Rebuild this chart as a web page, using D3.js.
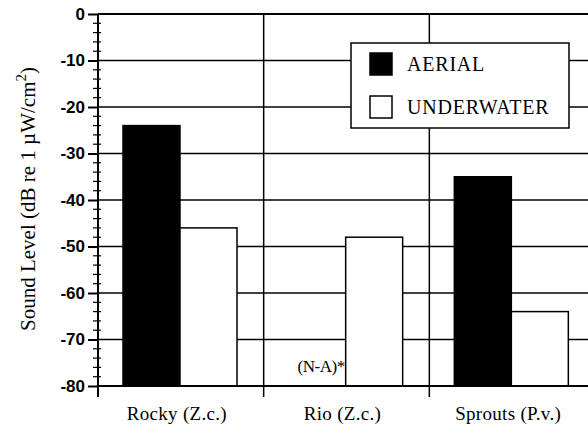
<!DOCTYPE html>
<html>
<head>
<meta charset="utf-8">
<script src="https://cdn.jsdelivr.net/npm/d3@7"></script>
<style>
  body { margin: 0; background: #fff; }
  svg { display: block; }
  .yaxis text { font-family: 'Liberation Sans', Arial, sans-serif; font-weight: bold; font-size: 17px; }
</style>
</head>
<body>
<div id="chart"></div>
<script>
var width = 588,
    height = 429;

// data
var categories = ["Rocky (Z.c.)", "Rio (Z.c.)", "Sprouts (P.v.)"];
var series = ["AERIAL", "UNDERWATER"];
var aerial = [-24, null, -35];
var underwater = [-46, -48, -64];
var yTicks = [0, -10, -20, -30, -40, -50, -60, -70, -80];

var serif = "'Liberation Serif', 'DejaVu Serif', serif";

var svg = d3.select("#chart").append("svg")
    .attr("width", width)
    .attr("height", height);

var y = d3.scaleLinear().domain([-80, 0]).range([386, 14]);
var x = d3.scaleBand().domain(categories).range([98, 595]).padding(0);
var x1 = d3.scaleBand().domain(series).range([25, 139]).padding(0);

// horizontal gridlines
svg.append("g")
  .selectAll("line")
  .data(yTicks.filter(function(d) { return d > -80; }))
  .join("line")
    .attr("x1", 98).attr("x2", width)
    .attr("y1", function(d) { return y(d); })
    .attr("y2", function(d) { return y(d); })
    .attr("stroke", "#000")
    .attr("stroke-width", function(d) { return d === 0 ? 2 : 1.3; });

// vertical separators between groups
svg.append("g")
  .selectAll("line")
  .data(categories.slice(1))
  .join("line")
    .attr("x1", function(d) { return x(d); })
    .attr("x2", function(d) { return x(d); })
    .attr("y1", y(0)).attr("y2", 397)
    .attr("stroke", "#000")
    .attr("stroke-width", 1.5);

// bars
var rows = [];
categories.forEach(function(c, i) {
  rows.push({cat: c, key: "AERIAL", value: aerial[i]});
  rows.push({cat: c, key: "UNDERWATER", value: underwater[i]});
});

svg.append("g")
  .selectAll("rect")
  .data(rows.filter(function(d) { return d.value !== null; }))
  .join("rect")
    .attr("x", function(d) { return x(d.cat) + x1(d.key); })
    .attr("width", x1.bandwidth())
    .attr("y", function(d) { return y(d.value); })
    .attr("height", function(d) { return y(-80) - y(d.value); })
    .attr("fill", function(d) { return d.key === "AERIAL" ? "#000" : "#fff"; })
    .attr("stroke", "#000")
    .attr("stroke-width", 1.5);

// N-A note for missing aerial value
svg.append("text")
    .attr("x", x("Rio (Z.c.)") + x1("UNDERWATER") - 1)
    .attr("y", 372)
    .attr("text-anchor", "end")
    .attr("font-family", serif)
    .attr("font-size", 17)
    .attr("letter-spacing", -0.5)
    .text("(N-A)*");

// y axis
var yAxis = d3.axisLeft(y)
    .tickValues(yTicks)
    .tickSize(10)
    .tickPadding(3)
    .tickFormat(function(d) { return String(d); });

var gy = svg.append("g")
    .attr("class", "yaxis")
    .attr("transform", "translate(98,0)")
    .call(yAxis);
gy.select(".domain").remove();
gy.selectAll(".tick line").attr("stroke-width", 2);

// minor ticks
svg.append("g")
  .selectAll("line")
  .data(d3.range(-80, 0, 2).filter(function(d) { return d % 10 !== 0; }))
  .join("line")
    .attr("x1", 93).attr("x2", 101)
    .attr("y1", function(d) { return y(d); })
    .attr("y2", function(d) { return y(d); })
    .attr("stroke", "#000")
    .attr("stroke-width", 1.2);

svg.append("line")
    .attr("x1", 98).attr("x2", 98)
    .attr("y1", y(0)).attr("y2", 397)
    .attr("stroke", "#000").attr("stroke-width", 2);

// x axis
svg.append("line")
    .attr("x1", 98).attr("x2", width)
    .attr("y1", y(-80)).attr("y2", y(-80))
    .attr("stroke", "#000").attr("stroke-width", 2);

svg.append("g")
  .selectAll("text")
  .data(categories)
  .join("text")
    .attr("x", function(d) { return x(d) + x.bandwidth() / 2 - 4; })
    .attr("y", 420)
    .attr("text-anchor", "middle")
    .attr("font-family", serif)
    .attr("font-size", 19)
    .attr("letter-spacing", 0.3)
    .text(function(d) { return d; });

// y axis title
var title = svg.append("text")
    .attr("transform", "translate(35,199) rotate(-90)")
    .attr("text-anchor", "middle")
    .attr("font-family", serif)
    .attr("font-size", 21);
title.append("tspan").text("Sound Level (dB re 1 \u00b5W/cm");
title.append("tspan").attr("dy", -9).attr("font-size", 15).text("2");
title.append("tspan").attr("dy", 9).text(")");

// legend
var legend = svg.append("g");
legend.append("rect")
    .attr("x", 351).attr("y", 43)
    .attr("width", 218).attr("height", 85)
    .attr("fill", "#fff")
    .attr("stroke", "#000")
    .attr("stroke-width", 1.5);

var li = legend.selectAll("g.item")
  .data(series)
  .join("g")
    .attr("class", "item")
    .attr("transform", function(d, i) { return "translate(370," + (53 + i * 43) + ")"; });

li.append("rect")
    .attr("width", 22).attr("height", 22)
    .attr("fill", function(d) { return d === "AERIAL" ? "#000" : "#fff"; })
    .attr("stroke", "#000")
    .attr("stroke-width", 1.5);

li.append("text")
    .attr("x", 37).attr("y", 18)
    .attr("font-family", serif)
    .attr("font-size", 20)
    .attr("letter-spacing", 0.8)
    .text(function(d) { return d; });
</script>
</body>
</html>
